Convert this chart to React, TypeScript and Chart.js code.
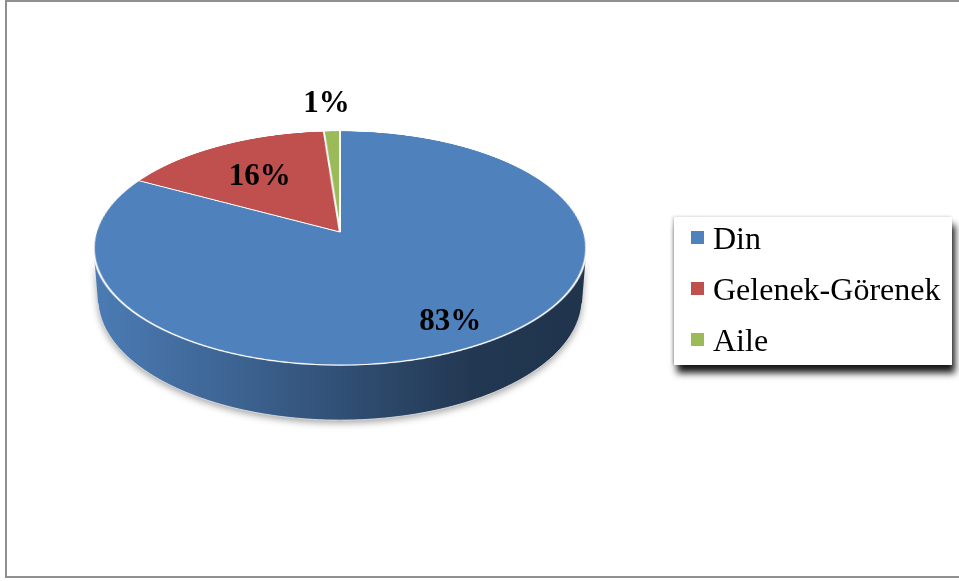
import React, { useEffect, useRef, useState } from "react";
import { Chart, registerables } from "chart.js";

Chart.register(...registerables);

// ---- data ----
const categories = ["Din", "Gelenek-Görenek", "Aile"];
const values = [82.9, 15.9, 1.2];
const colors = ["#4F81BD", "#C0504D", "#9BBB59"];
// radial position of each percentage label (fraction of radius)
const labelRadius = [0.8, 0.65, 1.35];

// ---- layout / 3D look ----
const W = 959;
const H = 581;
const PIE_SIZE = 490;
const CX = 340; // screen position of pie centre
const CY = 232;
const PERSP = 1574;
const TILT = (61.9 * Math.PI) / 180;
const DEPTH = 57.5;
const FONT = '"Liberation Serif", "Times New Roman", serif';

function project(dx: number, dy: number, z0: number): [number, number] {
  const c = Math.cos(TILT);
  const s = Math.sin(TILT);
  const yr = dy * c - z0 * s;
  const zr = dy * s + z0 * c;
  const k = PERSP / (PERSP - zr);
  return [CX + dx * k, CY + yr * k];
}

function hexToRgb(h: string): [number, number, number] {
  const n = parseInt(h.slice(1), 16);
  return [(n >> 16) & 255, (n >> 8) & 255, n & 255];
}
function shade(h: string, f: number) {
  const [r, g, b] = hexToRgb(h);
  return `rgb(${Math.round(r * f)},${Math.round(g * f)},${Math.round(b * f)})`;
}

type Lbl = { x: number; y: number; text: string };

export default function App() {
  const pieRef = useRef<HTMLCanvasElement | null>(null);
  const wallRef = useRef<HTMLCanvasElement | null>(null);
  const [labels, setLabels] = useState<Lbl[]>([]);

  useEffect(() => {
    document.body.style.margin = "0";
    const canvas = pieRef.current!;
    const total = values.reduce((a, b) => a + b, 0);

    const wallPlugin = {
      id: "wall3d",
      afterDraw(chart: any) {
        const wall = wallRef.current;
        if (!wall) return;
        const ctx = wall.getContext("2d")!;
        ctx.clearRect(0, 0, W, H);
        const meta = chart.getDatasetMeta(0);
        const arcs = meta.data;
        if (!arcs.length) return;
        const p0 = arcs[0].getProps(["x", "y", "outerRadius"], true);
        const R = p0.outerRadius;
        const ox = p0.x - PIE_SIZE / 2;
        const oy = p0.y - PIE_SIZE / 2;
        const s = Math.sin(TILT);
        const fa = Math.asin(Math.min(1, R / (PERSP * s)));
        const fb = Math.PI - fa;

        const out: Lbl[] = [];
        ctx.save();
        arcs.forEach((arc: any, i: number) => {
          const { startAngle, endAngle } = arc.getProps(["startAngle", "endAngle"], true);
          const lo = Math.max(startAngle, fa);
          const hi = Math.min(endAngle, fb);
          if (hi > lo) {
            const n = Math.max(2, Math.ceil((hi - lo) / 0.01));
            const top: [number, number][] = [];
            const bot: [number, number][] = [];
            for (let k = 0; k <= n; k++) {
              const t = lo + ((hi - lo) * k) / n;
              const dx = ox + R * Math.cos(t);
              const dy = oy + R * Math.sin(t);
              top.push(project(dx, dy, 0));
              bot.push(project(dx, dy, -DEPTH));
            }
            const [xl] = project(ox - R, oy, 0);
            const [xr] = project(ox + R, oy, 0);
            const g = ctx.createLinearGradient(xl, 0, xr, 0);
            const base = colors[i % colors.length];
            g.addColorStop(0, shade(base, 0.95));
            g.addColorStop(0.3, shade(base, 0.76));
            g.addColorStop(0.55, shade(base, 0.58));
            g.addColorStop(0.78, shade(base, 0.43));
            g.addColorStop(1, shade(base, 0.4));
            ctx.beginPath();
            top.forEach(([x, y], k) => (k ? ctx.lineTo(x, y) : ctx.moveTo(x, y)));
            for (let k = bot.length - 1; k >= 0; k--) ctx.lineTo(bot[k][0], bot[k][1]);
            ctx.closePath();
            ctx.shadowColor = "rgba(0,0,0,0.35)";
            ctx.shadowBlur = 7;
            ctx.shadowOffsetY = 3;
            ctx.fillStyle = g;
            ctx.fill();
            ctx.shadowColor = "transparent";
            ctx.beginPath();
            bot.forEach(([x, y], k) => (k ? ctx.lineTo(x, y) : ctx.moveTo(x, y)));
            ctx.strokeStyle = "rgba(225,225,225,0.9)";
            ctx.lineWidth = 1;
            ctx.stroke();
          }
          const mid = (startAngle + endAngle) / 2;
          const f = labelRadius[i] ?? 0.7;
          const [lx, ly] = project(ox + R * f * Math.cos(mid), oy + R * f * Math.sin(mid), 0);
          out.push({ x: lx, y: ly, text: Math.round((values[i] / total) * 100) + "%" });
        });
        ctx.restore();
        setLabels(out);
      },
    };

    const chart = new Chart(canvas, {
      type: "pie",
      data: {
        labels: categories,
        datasets: [
          {
            data: values,
            backgroundColor: colors,
            borderColor: "#ffffff",
            borderWidth: 2,
          },
        ],
      },
      options: {
        responsive: false,
        animation: false,
        devicePixelRatio: 2,
        events: [],
        layout: { padding: 0 },
        plugins: { legend: { display: false }, tooltip: { enabled: false } },
      },
      plugins: [wallPlugin],
    } as any);
    return () => chart.destroy();
  }, []);

  return (
    <div
      style={{
        position: "absolute",
        left: 0,
        top: 0,
        width: W,
        height: H,
        overflow: "hidden",
        background: "#ffffff",
        fontFamily: FONT,
      }}
    >
      <div
        style={{
          position: "absolute",
          left: 5,
          top: 0,
          width: 970,
          height: 578,
          boxSizing: "border-box",
          borderTop: "2px solid #8f8f8f",
          borderLeft: "2px solid #8f8f8f",
          borderBottom: "2px solid #8f8f8f",
        }}
      />
      <canvas ref={wallRef} width={W} height={H} style={{ position: "absolute", left: 0, top: 0 }} />
      <canvas
        ref={pieRef}
        width={PIE_SIZE}
        height={PIE_SIZE}
        style={{
          position: "absolute",
          left: CX - PIE_SIZE / 2,
          top: CY - PIE_SIZE / 2,
          width: PIE_SIZE,
          height: PIE_SIZE,
          transformOrigin: "50% 50%",
          transform: `perspective(${PERSP}px) rotateX(${(TILT * 180) / Math.PI}deg)`,
        }}
      />
      {labels.map((l, i) => (
        <div
          key={i}
          style={{
            position: "absolute",
            left: l.x - (i === 2 ? 3 : 0),
            top: l.y,
            transform: "translate(-50%, -50%)",
            font: `bold 31px ${FONT}`,
            lineHeight: 1,
            whiteSpace: "nowrap",
            color: "#000",
          }}
        >
          {l.text}
        </div>
      ))}
      <div
        style={{
          position: "absolute",
          left: 674,
          top: 217,
          width: 278,
          height: 148,
          background: "#fff",
          boxShadow: "3px 8px 7px rgba(0,0,0,0.9), -1px 0 3px rgba(0,0,0,0.25)",
        }}
      >
        {categories.map((c, i) => (
          <div
            key={c}
            style={{
              position: "absolute",
              left: 17,
              top: 20.5 + i * 51 - 15,
              height: 30,
              display: "flex",
              alignItems: "center",
              whiteSpace: "nowrap",
            }}
          >
            <span style={{ width: 13, height: 13, background: colors[i], display: "inline-block" }} />
            <span style={{ marginLeft: 9, fontSize: 32, lineHeight: "30px", color: "#000" }}>{c}</span>
          </div>
        ))}
      </div>
    </div>
  );
}
